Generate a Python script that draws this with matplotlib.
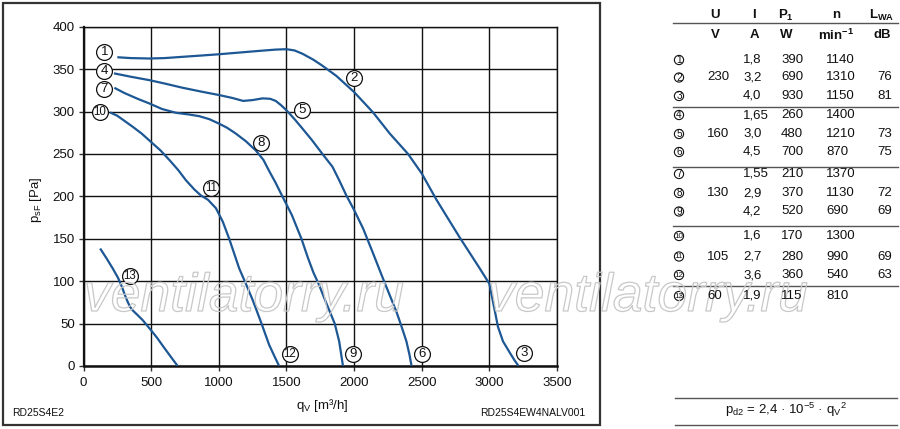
import matplotlib
matplotlib.use("Agg")
import matplotlib.pyplot as plt
import matplotlib.patheffects as pe
from matplotlib.patches import Rectangle, Circle

plt.rcParams['font.family'] = ['Liberation Sans', 'DejaVu Sans']
plt.rcParams['mathtext.fontset'] = 'custom'
plt.rcParams['mathtext.rm'] = 'Liberation Sans'
plt.rcParams['mathtext.it'] = 'Liberation Sans:italic'
plt.rcParams['mathtext.bf'] = 'Liberation Sans:bold'

# ---------------- data ----------------
x_ticks = [0, 500, 1000, 1500, 2000, 2500, 3000, 3500]
y_ticks = [0, 50, 100, 150, 200, 250, 300, 350, 400]

# 230 V curve (points 1-2-3)
q_230 = [250, 350, 487, 600, 733, 870, 1000, 1150, 1300, 1420, 1500, 1560, 1620, 1700,
         1766, 1869, 2000, 2070, 2140, 2264, 2399, 2500, 2609, 2779, 2921, 3000,
         3039, 3064, 3101, 3150, 3185, 3216]
p_230 = [364, 363, 362.5, 363, 364.5, 366, 367.5, 369.5, 371.5, 373, 373.5, 372, 368, 361,
         354, 342, 323, 311, 299, 274, 250, 227, 196, 152, 117, 97,
         66, 46, 29, 16, 7, 0]
# 160 V curve (points 4-5-6)
q_160 = [225, 350, 487, 600, 733, 870, 1000, 1100, 1180, 1250, 1323, 1380, 1421, 1460,
         1500, 1560, 1618, 1690, 1766, 1840, 1890, 1943, 2000, 2067, 2140, 2214, 2313, 2350,
         2387, 2410, 2425]
p_160 = [345, 341, 337, 333, 328, 323.5, 319.5, 316, 312.5, 313.5, 315.5, 315, 312.5, 307.5,
         301.5, 291, 280, 266, 250, 235, 219, 201, 184, 162, 133, 103, 64, 47,
         29, 13, 0]
# 130 V curve (points 7-8-9)
q_130 = [228, 300, 400, 487, 580, 684, 780, 856, 930, 998, 1060, 1126, 1200, 1274, 1330,
         1372, 1420, 1470, 1540, 1611, 1660, 1700, 1740, 1790, 1857, 1890, 1918]
p_130 = [328, 322, 315, 309.5, 303, 298.5, 296.5, 294.5, 291, 286, 281, 274, 265, 254, 243,
         230, 216, 200, 178, 150, 127, 110, 96, 76, 50, 29, 0]
# 105 V curve (points 10-11-12)
q_105 = [196, 250, 364, 430, 500, 570, 634, 700, 757, 820, 868, 920, 979, 1030, 1077,
         1115, 1151, 1200, 1250, 1316, 1372, 1410, 1446]
p_105 = [299, 295, 282, 274, 264, 254, 243, 231, 219, 208, 201, 196, 186, 170, 150,
         132, 115, 97, 78, 50, 25, 12, 0]
# 60 V curve (point 13)
q_60 = [123, 170, 216, 255, 285, 305, 327, 345, 364, 400, 438, 500, 545, 585, 640, 696]
p_60 = [138.5, 127, 115, 104, 93, 84, 75.5, 69.5, 65.5, 60, 54, 42, 33, 24, 12, 0]

# circled point labels on the chart
label_ids = ['1', '4', '7', '10', '2', '5', '8', '11', '13', '12', '9', '6', '3']
label_q = [154, 154, 154, 122, 2001, 1615, 1314, 945, 341, 1524, 1994, 2502, 3256]
label_p = [370, 348, 327, 300, 340, 301.5, 263, 210, 106, 14, 14, 14, 15]

# table
tab_ids = ['1', '2', '3', '4', '5', '6', '7', '8', '9', '10', '11', '12', '13']
tab_U = ['', '230', '', '', '160', '', '', '130', '', '', '105', '', '60']
tab_I = ['1,8', '3,2', '4,0', '1,65', '3,0', '4,5', '1,55', '2,9', '4,2', '1,6', '2,7', '3,6', '1,9']
tab_P1 = ['390', '690', '930', '260', '480', '700', '210', '370', '520', '170', '280', '360', '115']
tab_n = ['1140', '1310', '1150', '1400', '1210', '870', '1370', '1130', '690', '1300', '990', '540', '810']
tab_LWA = ['', '76', '81', '', '73', '75', '', '72', '69', '', '69', '63', '']
head1 = ['U', 'I', r'$\mathbf{P_1}$', 'n', r'$\mathbf{L_{WA}}$']
head2 = ['V', 'A', 'W', r'$\mathbf{min^{-1}}$', 'dB']

# ---------------- figure ----------------
W, H = 900, 429
fig = plt.figure(figsize=(9, 4.29), dpi=100)
blue = '#1d5794'

ax = fig.add_axes([83.5 / W, 1 - 366 / H, (557 - 83.5) / W, (366 - 26.7) / H])
ax.set_xlim(0, 3500)
ax.set_ylim(0, 400)
ax.set_xticks(x_ticks)
ax.set_yticks(y_ticks)
ax.grid(True, color='#111111', lw=1.0)
ax.set_axisbelow(True)
for s in ax.spines.values():
    s.set_color('#111111')
    s.set_linewidth(1.0)
ax.spines['left'].set_linewidth(1.6)
ax.spines['bottom'].set_linewidth(1.8)
ax.tick_params(axis='both', direction='out', length=3.8, width=1.0, color='#333333',
               labelsize=9.5, labelcolor='#111111')
ax.tick_params(axis='x', pad=4.3)
ax.tick_params(axis='y', pad=2.5)

for q, p in [(q_230, p_230), (q_160, p_160), (q_130, p_130), (q_105, p_105), (q_60, p_60)]:
    ax.plot(q, p, color=blue, lw=1.6, solid_capstyle='butt', solid_joinstyle='round', zorder=3)

ax.scatter(label_q, label_p, s=130, facecolor='white', edgecolor='#111111', linewidths=0.9,
           zorder=5, clip_on=False)
for t, q, p in zip(label_ids, label_q, label_p):
    fs = 9.5 if len(t) == 1 else 8.3
    ax.text(q, p, t, ha='center', va='center', fontsize=fs, color='#111111', zorder=6,
            clip_on=False)

# ---------------- overlay in pixel coords ----------------
ov = fig.add_axes([0, 0, 1, 1], zorder=10)
ov.set_xlim(0, W)
ov.set_ylim(H, 0)
ov.axis('off')
ov.patch.set_visible(False)

ov.add_patch(Rectangle((3, 3), 597, 422, fill=False, edgecolor='#333333', lw=1.6))

ov.text(322, 405, r'$\mathregular{q_V}$ [m³/h]', ha='center', va='center', fontsize=9.5,
        color='#111111')
ov.text(36.5, 200, r'$\mathregular{p_{sF}}$ [Pa]', ha='center', va='center', fontsize=9.5,
        rotation=90, color='#111111')
ov.text(12, 413, 'RD25S4E2', ha='left', va='center', fontsize=7.5, color='#111111')
ov.text(585, 413, 'RD25S4EW4NALV001', ha='right', va='center', fontsize=7.5, color='#111111')

# watermark
for x0 in (84, 488):
    ov.text(x0, 311, 'ventilatorry.ru', ha='left', va='baseline', fontsize=38.5,
            style='italic', color=(1, 1, 1, 0),
            path_effects=[pe.withStroke(linewidth=0.9, foreground='#c8c8c8')])

# table
col_head = [715, 754, 786, 836, 882]
for t, x in zip(head1, col_head):
    ov.text(x, 15, t, ha='center', va='center', fontsize=9.5, fontweight='bold', color='#111111')
for t, x in zip(head2, col_head):
    ov.text(x, 35, t, ha='center', va='center', fontsize=9.5, fontweight='bold', color='#111111')
ov.plot([673, 898], [22.7, 22.7], color='#555555', lw=1.0)

row_y = [60, 77.5, 96, 115, 134, 152, 174, 193, 211.5, 236, 256.5, 275, 296]
col_left = [707, 743, 781, 826, 877]
for i, y in enumerate(row_y):
    ov.add_patch(Circle((679, y), 4.6, fill=False, edgecolor='#111111', lw=0.8))
    fs = 7.2 if len(tab_ids[i]) == 1 else 5.8
    ov.text(679, y + 0.3, tab_ids[i], ha='center', va='center', fontsize=fs, color='#111111')
    for t, x in zip([tab_U[i], tab_I[i], tab_P1[i], tab_n[i], tab_LWA[i]], col_left):
        ov.text(x, y, t, ha='left', va='center', fontsize=9.5, color='#111111')
for y in [107.3, 166.7, 226, 286]:
    ov.plot([673, 898], [y, y], color='#555555', lw=1.0)

ov.plot([675, 897], [398.3, 398.3], color='#555555', lw=1.0)
ov.plot([675, 897], [425, 425], color='#555555', lw=1.0)
ov.text(786, 410, r'$\mathregular{p_{d2}}$ = 2,4 · 10$^{\mathregular{-5}}$ · $\mathregular{q_V}^{\mathregular{2}}$',
        ha='center', va='center', fontsize=9.5, color='#111111')

fig.savefig('out.png', dpi=100)
